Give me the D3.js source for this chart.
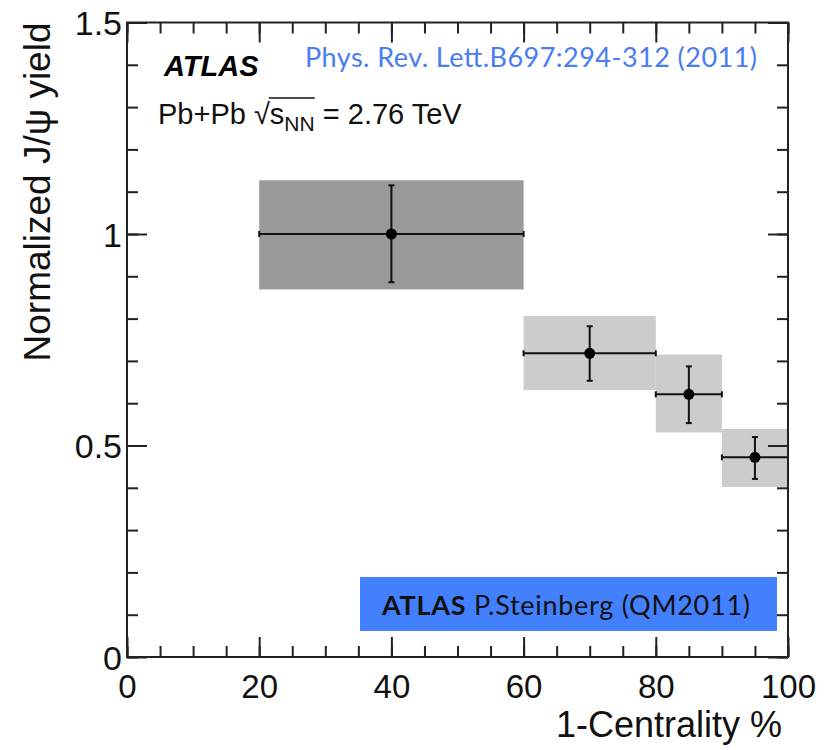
<!DOCTYPE html>
<html>
<head>
<meta charset="utf-8">
<script src="https://cdn.jsdelivr.net/npm/d3@7"></script>
<style>
  body { margin: 0; background: #fff; }
  svg { display: block; }
  .tick line { stroke: #222; stroke-width: 2; }
</style>
</head>
<body>
<svg id="chart" width="834" height="750"></svg>
<script>
// centrality bins (1-centrality %) and normalized J/psi yield
var binLow  = [20, 60, 80, 90];
var binHigh = [60, 80, 90, 100];
var binMid  = [40, 70, 85, 95];
var yieldVal = [1.000, 0.718, 0.621, 0.472];
var statLow  = [0.886, 0.653, 0.553, 0.421];
var statHigh = [1.115, 0.782, 0.687, 0.520];
var sysLow   = [0.869, 0.631, 0.531, 0.402];
var sysHigh  = [1.127, 0.806, 0.715, 0.539];
var boxFill  = ["#999999", "#cccccc", "#cccccc", "#cccccc"];

var xMajor = [0, 20, 40, 60, 80, 100];
var yMajor = [0, 0.5, 1, 1.5];

var font = "'Liberation Sans', Arial, Helvetica, sans-serif";
var svg = d3.select("#chart");
var margin = {top: 22.5, right: 46, bottom: 93, left: 127};
var width = +svg.attr("width") - margin.left - margin.right;
var height = +svg.attr("height") - margin.top - margin.bottom;

var x = d3.scaleLinear().domain([0, 100]).range([0, width]);
var y = d3.scaleLinear().domain([0, 1.5]).range([height, 0]);

var g = svg.append("g")
  .attr("transform", "translate(" + margin.left + "," + margin.top + ")");

// systematic boxes
g.selectAll(".sys")
  .data(binMid)
  .enter().append("rect")
    .attr("class", "sys")
    .attr("x", function(d, i) { return x(binLow[i]); })
    .attr("width", function(d, i) { return x(binHigh[i]) - x(binLow[i]); })
    .attr("y", function(d, i) { return y(sysHigh[i]); })
    .attr("height", function(d, i) { return y(sysLow[i]) - y(sysHigh[i]); })
    .attr("fill", function(d, i) { return boxFill[i]; });

// error bars with small end caps
var cap = 3;
var eb = g.selectAll(".err")
  .data(binMid)
  .enter().append("g")
    .attr("class", "err")
    .attr("stroke", "#111")
    .attr("stroke-width", 2);

eb.append("line")
  .attr("x1", function(d, i) { return x(binLow[i]); })
  .attr("x2", function(d, i) { return x(binHigh[i]); })
  .attr("y1", function(d, i) { return y(yieldVal[i]); })
  .attr("y2", function(d, i) { return y(yieldVal[i]); });
eb.append("line")
  .attr("x1", function(d) { return x(d); })
  .attr("x2", function(d) { return x(d); })
  .attr("y1", function(d, i) { return y(statLow[i]); })
  .attr("y2", function(d, i) { return y(statHigh[i]); });
[statLow, statHigh].forEach(function(arr) {
  eb.append("line")
    .attr("x1", function(d) { return x(d) - cap; })
    .attr("x2", function(d) { return x(d) + cap; })
    .attr("y1", function(d, i) { return y(arr[i]); })
    .attr("y2", function(d, i) { return y(arr[i]); });
});
[binLow, binHigh].forEach(function(arr) {
  eb.append("line")
    .attr("x1", function(d, i) { return x(arr[i]); })
    .attr("x2", function(d, i) { return x(arr[i]); })
    .attr("y1", function(d, i) { return y(yieldVal[i]) - cap; })
    .attr("y2", function(d, i) { return y(yieldVal[i]) + cap; });
});

g.selectAll(".pt")
  .data(binMid)
  .enter().append("circle")
    .attr("class", "pt")
    .attr("cx", function(d) { return x(d); })
    .attr("cy", function(d, i) { return y(yieldVal[i]); })
    .attr("r", 5.5)
    .attr("fill", "#000");

// ticks on all four sides, pointing inward
function addAxis(axis, tr) {
  var a = g.append("g").attr("transform", tr).call(axis);
  a.select(".domain").remove();
  return a;
}
var xMinor = d3.range(0, 101, 5);
var yMinor = d3.range(0, 1.51, 0.1);

addAxis(d3.axisBottom(x).tickValues(xMinor).tickSize(-11).tickFormat(""), "translate(0," + height + ")");
addAxis(d3.axisTop(x).tickValues(xMinor).tickSize(-11).tickFormat(""), "translate(0,0)");
addAxis(d3.axisLeft(y).tickValues(yMinor).tickSize(-11).tickFormat(""), "translate(0,0)");
addAxis(d3.axisRight(y).tickValues(yMinor).tickSize(-11).tickFormat(""), "translate(" + width + ",0)");
addAxis(d3.axisTop(x).tickValues(xMajor).tickSize(-20).tickFormat(""), "translate(0,0)");
addAxis(d3.axisRight(y).tickValues(yMajor).tickSize(-20).tickFormat(""), "translate(" + width + ",0)");

var xAx = addAxis(d3.axisBottom(x).tickValues(xMajor).tickSize(-20)
  .tickFormat(d3.format("d")), "translate(0," + height + ")");
xAx.selectAll("text")
  .attr("font-family", font).attr("font-size", 33).attr("fill", "#111")
  .attr("y", 41).attr("dy", null);

var yAx = addAxis(d3.axisLeft(y).tickValues(yMajor).tickSize(-20).tickPadding(5)
  .tickFormat(function(d) { return d3.format("")(d); }), "translate(0,0)");
yAx.selectAll("text")
  .attr("font-family", font).attr("font-size", 34).attr("fill", "#111")
  .attr("dy", null).attr("y", 12);

// frame
g.append("rect")
  .attr("width", width).attr("height", height)
  .attr("fill", "none").attr("stroke", "#222").attr("stroke-width", 2);

// axis titles
svg.append("text")
  .attr("transform", "translate(50," + margin.top + ") rotate(-90)")
  .attr("text-anchor", "end")
  .attr("font-family", font).attr("font-size", 37).attr("fill", "#111")
  .text("Normalized J/\u03C8 yield");

svg.append("text")
  .attr("x", 782).attr("y", 737)
  .attr("text-anchor", "end")
  .attr("font-family", font).attr("font-size", 36).attr("fill", "#111")
  .text("1-Centrality %");

// ATLAS labels
svg.append("text")
  .attr("x", 164).attr("y", 76)
  .attr("font-family", font).attr("font-size", 29)
  .attr("font-weight", "bold").attr("font-style", "italic")
  .text("ATLAS");

var pbX = 158;
var pb = svg.append("text")
  .attr("x", pbX).attr("y", 124)
  .attr("font-family", font).attr("font-size", 29).attr("fill", "#111");
pb.append("tspan").text("Pb+Pb ");
pb.append("tspan").text("\u221A");
pb.append("tspan").text("s");
pb.append("tspan").attr("font-size", 21).attr("dy", 7).text("NN");
pb.append("tspan").attr("dy", -7).text(" = 2.76 TeV");
// overline of the square root
var pbNode = pb.node();
var rootEnd = pbX + pbNode.getSubStringLength(0, 7);
var nnEnd = pbX + pbNode.getSubStringLength(0, 10);
svg.append("line")
  .attr("x1", rootEnd - 1).attr("x2", nnEnd)
  .attr("y1", 98).attr("y2", 98)
  .attr("stroke", "#111").attr("stroke-width", 1.5);

svg.append("text")
  .attr("x", 305).attr("y", 67)
  .attr("font-family", "Lato, 'Noto Sans', sans-serif").attr("font-size", 27)
  .attr("fill", "#4a7cf2")
  .attr("textLength", 452).attr("lengthAdjust", "spacing")
  .text("Phys. Rev. Lett.B697:294-312 (2011)");

// credit box
svg.append("rect")
  .attr("x", 360).attr("y", 577).attr("width", 417).attr("height", 54)
  .attr("fill", "#4380fd");
var cr = svg.append("text")
  .attr("x", 382).attr("y", 615)
  .attr("font-family", "Lato, 'Noto Sans', sans-serif").attr("font-size", 27)
  .attr("fill", "#111")
  .attr("textLength", 368).attr("lengthAdjust", "spacing");
cr.append("tspan").attr("font-weight", "bold").text("ATLAS");
cr.append("tspan").text(" P.Steinberg (QM2011)");
</script>
</body>
</html>
